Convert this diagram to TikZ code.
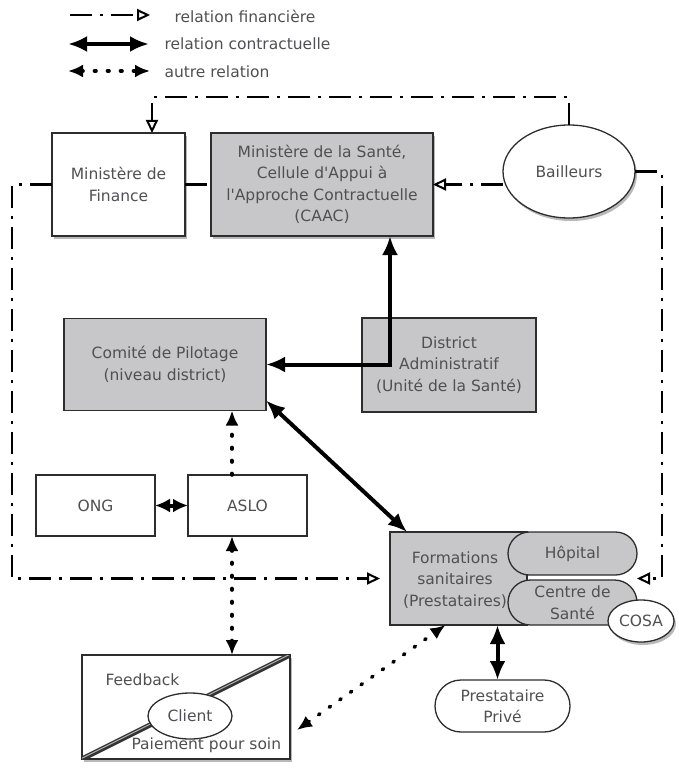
\documentclass[tikz,border=0pt]{standalone}
\usepackage{fontspec}
\setmainfont{DejaVu Sans}[Ligatures=TeXOff]
\usetikzlibrary{arrows.meta,shapes.geometric,shapes.misc,shadows}

\definecolor{txt}{RGB}{80,80,82}
\definecolor{boxgray}{RGB}{199,199,201}
\definecolor{edge}{RGB}{45,45,45}

\begin{document}
\begin{tikzpicture}[x=1pt,y=-1pt,
  every node/.style={font=\fontsize{15.5}{21.5}\selectfont, text=txt, align=center},
  box/.style={draw=edge, line width=1.3pt, rectangle, inner sep=0pt, outer sep=0pt},
  whitebox/.style={box, fill=white},
  graybox/.style={box, fill=boxgray},
  pill/.style={rounded rectangle, draw=edge, line width=1.3pt, inner sep=0pt, outer sep=0pt},
  oval/.style={ellipse, draw=edge, line width=1.3pt, fill=white, inner sep=0pt, outer sep=0pt},
  shadowed/.style={drop shadow={shadow xshift=2pt, shadow yshift=-3pt, opacity=0.55}},
  finrel/.style={line width=2.4pt, black, dash pattern=on 22pt off 8pt on 3pt off 8pt},
  finend/.style={arrows={-Triangle[open,length=13pt,width=12pt,line width=2pt]}},
  contr/.style={line width=4pt, black},
  cboth/.style={arrows={Latex[length=19pt,width=16pt]-Latex[length=19pt,width=16pt]}},
  cshort/.style={arrows={Latex[length=15pt,width=14pt]-Latex[length=15pt,width=14pt]}},
  other/.style={line width=3.6pt, black, line cap=round, dash pattern=on 1.5pt off 11.5pt},
  oboth/.style={arrows={Latex[length=15pt,width=13pt]-Latex[length=15pt,width=13pt]}},
  oend/.style={arrows={-Latex[length=15pt,width=13pt]}},
]
\path[use as bounding box] (0,0) rectangle (679,773);

% legend
\coordinate (l1a) at (70,15);  \coordinate (l1b) at (150,15);
\coordinate (l2a) at (68,44);  \coordinate (l2b) at (149,44);
\coordinate (l3a) at (68,71);  \coordinate (l3b) at (150,71);
\draw[finrel, finend] (l1a) -- (l1b);
\draw[contr, cboth] (l2a) -- (l2b);
\draw[other, oboth] (l3a) -- (l3b);
\node[anchor=west] (t1) at (171,16) {relation financière};
\node[anchor=west] (t2) at (161,44) {relation contractuelle};
\node[anchor=west] (t3) at (161,72) {autre relation};

% top row
\node[whitebox, shadowed, minimum width=133pt, minimum height=103pt] (fin) at (118.5,184.5) {Ministère de\\Finance};
\node[graybox, shadowed, minimum width=222pt, minimum height=103pt] (ms) at (322,184.5)
  {Ministère de la Santé,\\Cellule d'Appui à\\l'Approche Contractuelle\\(CAAC)};
\node[oval, shadowed, minimum width=132pt, minimum height=93pt] (bail) at (569,171.5) {Bailleurs};

% district level
\node[graybox, minimum width=202pt, minimum height=92pt] (cp) at (165,364.5) {Comité de Pilotage\\(niveau district)};
\node[graybox, minimum width=174pt, minimum height=94pt] (da) at (449,365) {District\\Administratif\\(Unité de la Santé)};

\node[whitebox, minimum width=119pt, minimum height=61pt] (ong) at (95.5,505.5) {ONG};
\node[whitebox, minimum width=119pt, minimum height=61pt] (aslo) at (247.5,505.5) {ASLO};

% health facilities
\node[graybox, minimum width=137pt, minimum height=93pt] (fs) at (458.5,578.5) {};
\node (fst) at (455,580) {Formations\\sanitaires\\(Prestataires)};
\node[pill, fill=boxgray, minimum width=129pt, minimum height=43pt] (hop) at (572.5,553.5) {Hôpital};
\node[pill, fill=boxgray, minimum width=129pt, minimum height=45pt] (cds) at (572.5,602.5) {Centre de\\Santé};
\node[oval, shadowed, minimum width=66pt, minimum height=42pt] (cosa) at (641,621) {COSA};

\node[pill, fill=white, minimum width=135pt, minimum height=52pt] (pp) at (502.5,706) {Prestataire\\Privé};

% client box
\node[whitebox, shadowed, minimum width=208pt, minimum height=104pt] (cbox) at (186,707) {};
\begin{scope}
  \clip (cbox.south west) rectangle (cbox.north east);
  \draw[line width=5pt, black!80] (cbox.south west) -- (cbox.north east);
  \draw[line width=1pt, black!30] ([yshift=0.8pt]cbox.south west) -- ([yshift=0.8pt]cbox.north east);
\end{scope}
\node[oval, minimum width=84pt, minimum height=46pt] (client) at (190,716) {Client};
\node[anchor=west] (fb) at (102,680) {Feedback};
\node[anchor=west] (pay) at (128,745) {Paiement pour soin};

% financial relations
\coordinate (topc) at (400,97);
\coordinate (lft) at (12,380);
\coordinate (rgt) at (662,380);
\draw[finrel, finend] (bail.north) |- (topc) -| ([xshift=33.5pt]fin.north);
\draw[finrel, finend] (bail.west |- ms.east) -- (ms.east);
\draw[finrel] (fin.east) -- (ms.west);
\draw[finrel, finend, shorten >=10pt] (fin.west) -| (lft) |- (fs.west);
\draw[finrel, finend] (bail.east) -| (rgt) |- (hop.east |- fs.east);

% contractual relations
\draw[contr, cboth] (cp.east) -| ([xshift=68pt]ms.south);
\draw[contr, cboth] ([yshift=10pt]cp.south east) -- ([xshift=17pt]fs.north west);
\draw[contr, cshort] (ong.east) -- (aslo.west);
\coordinate (p1) at ([xshift=-5pt]pp.north);
\draw[contr, cboth] (p1 |- fs.south) -- (p1);

% other relations
\coordinate (a1) at ([xshift=-15.5pt]aslo.north);
\coordinate (a2) at ([xshift=-15.5pt]aslo.south);
\draw[other, oend] (a1) -- (a1 |- cp.south);
\draw[other, oboth] (a2) -- (a2 |- cbox.north);
\draw[other, oboth] ([xshift=7pt,yshift=-23pt]cbox.east) -- ([xshift=-13pt]fs.south);
\end{tikzpicture}
\end{document}
